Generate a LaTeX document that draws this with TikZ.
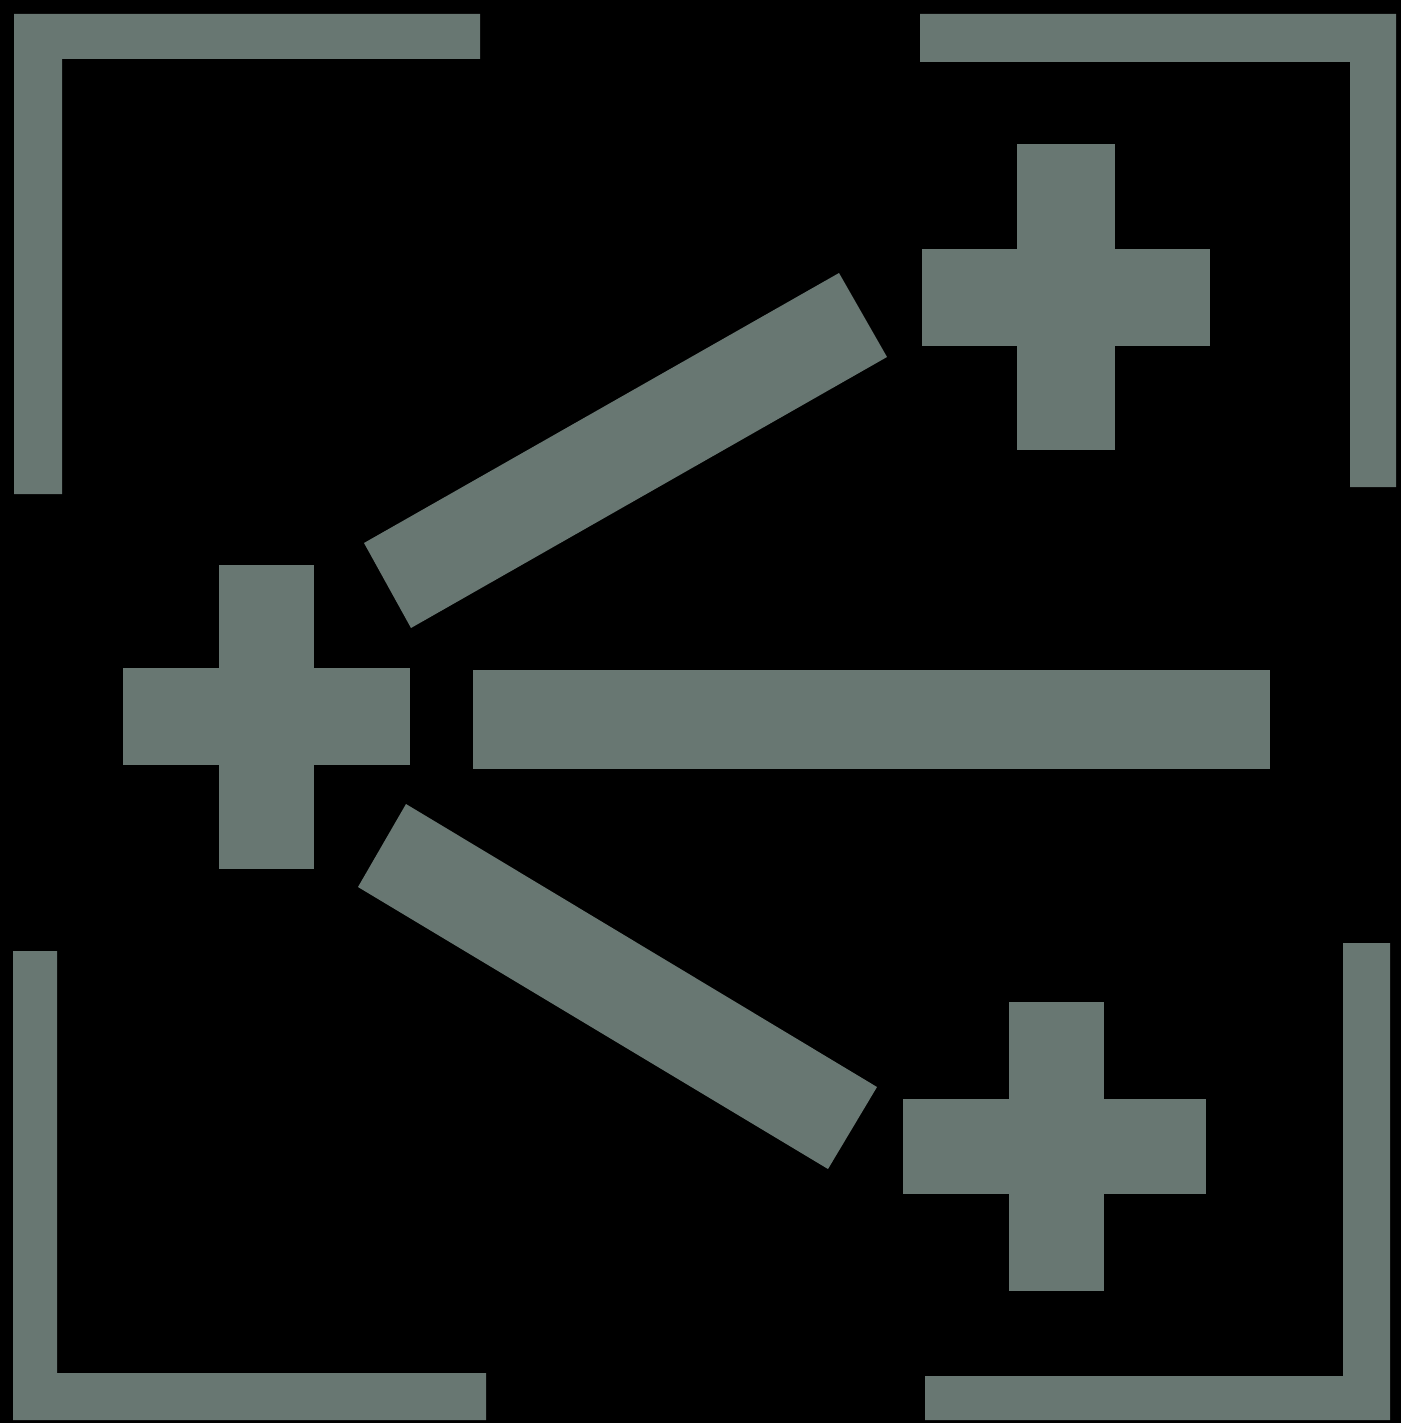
\documentclass[tikz,border=0pt]{standalone}
\definecolor{slate}{RGB}{104,119,114}
\begin{document}
\begin{tikzpicture}[x=0.5pt,y=-0.5pt,slab/.style={fill=slate}]
\fill[black] (0,0) rectangle (1401,1423);
\useasboundingbox (0,0) rectangle (1401,1423);
% corner brackets
\fill[slab] (14,14) -- (480,14) -- (480,59) -- (62,59) -- (62,494) -- (14,494) -- cycle;
\fill[slab] (920,14) -- (1396,14) -- (1396,487) -- (1350,487) -- (1350,62) -- (920,62) -- cycle;
\fill[slab] (13,951) -- (57,951) -- (57,1373) -- (486,1373) -- (486,1420) -- (13,1420) -- cycle;
\fill[slab] (1343,943) -- (1390,943) -- (1390,1420) -- (925,1420) -- (925,1376) -- (1343,1376) -- cycle;
% crosses
\fill[slab] (1017,144) rectangle (1115,450);
\fill[slab] (922,249) rectangle (1210,346);
\fill[slab] (219,565) rectangle (314,869);
\fill[slab] (123,668) rectangle (410,765);
\fill[slab] (1009,1002) rectangle (1104,1291);
\fill[slab] (903,1099) rectangle (1206,1194);
% bars
\fill[slab] (473,670) rectangle (1270,769);
\fill[slab] (364,543) -- (839,273) -- (887,357) -- (411,628) -- cycle;
\fill[slab] (406,804) -- (877,1087) -- (828,1169) -- (358,887) -- cycle;
\end{tikzpicture}
\end{document}
